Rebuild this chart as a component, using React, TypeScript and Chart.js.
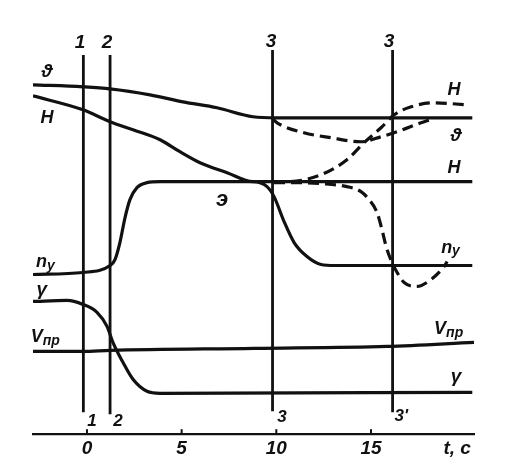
import { useEffect, useRef } from "react";
import { Chart, registerables } from "chart.js";

Chart.register(...registerables);

// ---- axis ----
const tickValues = [0, 5, 10, 15];
const axisUnitLabel = "t, c";
const axisUnitAt = 19.55;
const tMin = -2.85;
const tMax = 20.44;
const vMin = 0;
const vMax = 43.5;

// ---- curves (t in s, v in arbitrary diagram units) ----
const thetaT = [-2.85, -0.21, 1.22, 3.33, 5.07, 6.87, 8.77, 10.0, 20.35];
const thetaV = [35.0, 34.8, 34.6, 34.0, 33.3, 32.7, 31.8, 31.7, 31.7];

const hT = [-2.85, -0.21, 1.22, 2.43, 3.86, 4.91, 5.97, 7.4, 8.77, 10.0, 20.35];
const hV = [33.9, 32.5, 31.3, 30.5, 29.5, 28.3, 27.2, 26.2, 25.3, 25.3, 25.3];

const nyT = [-2.85, -0.21, 1.22, 1.48, 1.74, 2.01, 2.27, 2.64, 3.17, 3.86, 8.77, 9.51, 9.88, 10.41, 10.94, 11.62, 12.36, 13.1, 20.35];
const nyV = [16.0, 16.2, 16.9, 17.5, 19.2, 21.7, 23.5, 24.7, 25.2, 25.3, 25.3, 24.8, 23.8, 21.3, 19.2, 17.8, 17.0, 16.9, 16.9];

const gammaT = [-2.85, -1.06, -0.21, 0.53, 1.06, 1.37, 1.9, 2.43, 3.17, 3.86, 20.35];
const gammaV = [13.3, 13.4, 13.0, 12.2, 10.8, 9.2, 7.2, 5.5, 4.3, 4.1, 4.2];

const vprT = [-2.85, -0.21, 1.22, 8.82, 15.85, 20.44];
const vprV = [8.3, 8.3, 8.4, 8.6, 8.8, 9.2];

// dashed alternatives after point 3
const hDashT = [9.88, 10.57, 12.36, 13.73, 14.63, 15.53, 16.22, 17.12, 18.33, 20.07];
const hDashV = [25.3, 25.3, 26.0, 27.5, 29.2, 30.7, 32.0, 32.8, 33.2, 33.0];

const thetaDashT = [9.8, 10.04, 11.46, 12.89, 14.47, 15.53, 16.38, 17.64, 18.12];
const thetaDashV = [31.6, 31.2, 30.2, 29.7, 29.3, 29.8, 30.3, 31.2, 31.5];

const nyDashT = [9.88, 11.09, 12.36, 13.73, 14.47, 14.9, 15.32, 15.58, 15.8, 16.11, 16.38, 16.75, 17.43, 18.17, 18.86, 19.02];
const nyDashV = [25.2, 25.2, 25.1, 24.8, 24.3, 23.5, 22.2, 20.5, 18.8, 17.2, 16.2, 15.2, 14.8, 15.5, 16.8, 17.3];

// vertical marker lines: time, bottom, top
const markerT = [-0.19, 1.22, 9.8, 16.14];
const markerBottom = [2.2, 2.0, 2.3, 2.2];
const markerTop = [38.0, 38.0, 38.5, 38.5];

// text labels
const labelText = ["1", "2", "3", "3", "1", "2", "3", "3'", "ϑ", "H", "n", "γ", "V", "э", "H", "ϑ", "H", "n", "V", "γ"];
const labelSub = ["", "", "", "", "", "", "", "", "", "", "y", "", "пр", "", "", "", "", "y", "пр", ""];
const labelT = [-0.37, 1.06, 9.72, 15.95, 0.26, 1.64, 10.3, 16.6, -2.11, -2.11, -2.2, -2.38, -2.2, 7.13, 19.39, 19.49, 19.39, 19.2, 19.1, 19.49];
const labelV = [39.2, 39.2, 39.3, 39.3, 1.3, 1.3, 1.7, 1.8, 36.3, 31.7, 17.2, 14.5, 9.7, 23.5, 34.5, 29.9, 26.7, 18.7, 10.5, 5.8];
const labelSize = [19, 19, 19, 19, 17, 17, 17, 17, 19, 18, 18, 19, 18, 22, 18, 19, 18, 18, 18, 19];

const FONT_FAMILY = '"Liberation Sans", "DejaVu Sans", sans-serif';

function pts(ts: number[], vs: number[]) {
  return ts.map((t, i) => ({ x: t, y: vs[i] }));
}

function curve(ts: number[], vs: number[], dashed: boolean) {
  return {
    data: pts(ts, vs),
    borderColor: "#111",
    borderWidth: 3.2,
    borderDash: dashed ? [11, 6] : [],
    pointRadius: 0,
    fill: false,
    cubicInterpolationMode: "monotone" as const,
    borderCapStyle: "butt" as const,
  };
}

const labelsPlugin = {
  id: "diagramLabels",
  afterDraw(chart: any) {
    const { ctx, scales } = chart;
    const xs = scales.x;
    const ys = scales.y;
    ctx.save();
    ctx.fillStyle = "#111";
    ctx.textAlign = "center";
    ctx.textBaseline = "middle";
    labelText.forEach((txt, i) => {
      const px = xs.getPixelForValue(labelT[i]);
      const py = ys.getPixelForValue(labelV[i]);
      const size = labelSize[i];
      const subSize = Math.round(size * 0.75);
      ctx.font = `italic bold ${size}px ${FONT_FAMILY}`;
      if (labelSub[i]) {
        const mainW = ctx.measureText(txt).width;
        ctx.font = `italic bold ${subSize}px ${FONT_FAMILY}`;
        const subW = ctx.measureText(labelSub[i]).width;
        const total = mainW + subW;
        const left = px - total / 2;
        ctx.textAlign = "left";
        ctx.font = `italic bold ${size}px ${FONT_FAMILY}`;
        ctx.fillText(txt, left, py);
        ctx.font = `italic bold ${subSize}px ${FONT_FAMILY}`;
        ctx.fillText(labelSub[i], left + mainW, py + 4);
        ctx.textAlign = "center";
      } else {
        ctx.fillText(txt, px, py);
      }
    });
    // small tick marks above the time axis
    ctx.strokeStyle = "#111";
    ctx.lineWidth = 2;
    const base = ys.getPixelForValue(vMin);
    tickValues.forEach((v) => {
      const px = xs.getPixelForValue(v);
      ctx.beginPath();
      ctx.moveTo(px, base);
      ctx.lineTo(px, base - 5);
      ctx.stroke();
    });
    ctx.restore();
  },
};

export default function App() {
  const ref = useRef<HTMLCanvasElement | null>(null);

  useEffect(() => {
    if (!ref.current) return;
    const markers = markerT.map((t, i) => ({
      data: [
        { x: t, y: markerBottom[i] },
        { x: t, y: markerTop[i] },
      ],
      borderColor: "#111",
      borderWidth: 2.8,
      pointRadius: 0,
      fill: false,
    }));
    const chart = new Chart(ref.current, {
      type: "line",
      data: {
        datasets: [
          ...markers,
          curve(thetaT, thetaV, false),
          curve(hT, hV, false),
          curve(nyT, nyV, false),
          curve(gammaT, gammaV, false),
          curve(vprT, vprV, false),
          curve(hDashT, hDashV, true),
          curve(thetaDashT, thetaDashV, true),
          curve(nyDashT, nyDashV, true),
        ] as any,
      },
      options: {
        animation: false,
        responsive: false,
        maintainAspectRatio: false,
        layout: { padding: { left: 33, right: 34, top: 0, bottom: 0 } },
        plugins: {
          legend: { display: false },
          tooltip: { enabled: false },
        },
        scales: {
          x: {
            type: "linear",
            min: tMin,
            max: tMax,
            afterBuildTicks: (scale: any) => {
              scale.ticks = [...tickValues, axisUnitAt].map((v) => ({ value: v }));
            },
            grid: { display: false, drawTicks: false, tickLength: 0 },
            border: { display: true, color: "#111", width: 2.2 },
            ticks: {
              autoSkip: false,
              maxRotation: 0,
              padding: 3,
              color: "#111",
              font: { family: FONT_FAMILY, size: 19, style: "italic", weight: "bold" },
              callback: (v: any) => (Number(v) === axisUnitAt ? axisUnitLabel : String(v)),
            },
          },
          y: {
            type: "linear",
            display: false,
            min: vMin,
            max: vMax,
          },
        },
      },
      plugins: [labelsPlugin],
    });
    return () => chart.destroy();
  }, []);

  return (
    <div style={{ position: "fixed", left: 0, top: 0, width: 508, height: 463, background: "#fff" }}>
      <canvas ref={ref} width={508} height={463} style={{ width: 508, height: 463 }} />
    </div>
  );
}
